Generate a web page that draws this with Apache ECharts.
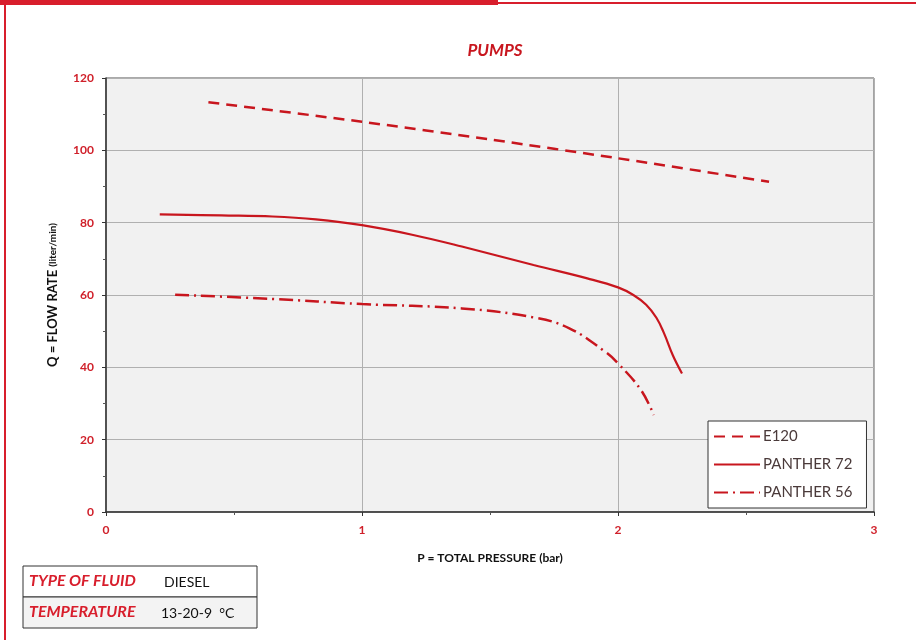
<!DOCTYPE html>
<html><head><meta charset="utf-8">
<script src="https://cdn.jsdelivr.net/npm/echarts@6/dist/echarts.min.js"></script>
<style>html,body{margin:0;padding:0;background:#fff}#c{width:916px;height:640px}</style>
</head><body><div id="c"></div>
<script>
const seriesNames = ['E120', 'PANTHER 72', 'PANTHER 56'];
const e120 = [[0.40,113.3],[1.00,107.9],[1.50,103.0],[2.00,97.8],[2.59,91.3]];
const panther72 = [[0.21,82.3],[0.45,82.0],[0.65,81.7],[0.82,80.9],[1.00,79.3],[1.20,76.6],[1.39,73.4],[1.67,68.3],[1.88,64.6],[2.00,62.1],[2.06,60.0],[2.11,57.3],[2.15,53.7],[2.18,49.4],[2.215,43.2],[2.25,38.3]];
const panther56 = [[0.27,60.1],[0.65,58.9],[1.00,57.5],[1.39,56.3],[1.67,53.8],[1.81,50.8],[1.95,44.3],[2.00,41.1],[2.09,33.7],[2.14,26.8]];
const xTicks = [0,1,2,3];
const yTicks = [0,20,40,60,80,100,120];
const fluidRows = [['TYPE OF FLUID','DIESEL'],['TEMPERATURE','13-20-9  °C']];

const RED = '#c8161e';
const FRAME = '#d81e2c';
const FONT = 'Lato, "Open Sans", sans-serif';
const chart = echarts.init(document.getElementById('c'));

const tableEls = [];
fluidRows.forEach((r,i)=>{
  const y = 566 + i*31;
  tableEls.push({type:'rect', shape:{x:23,y:y,width:234,height:31}, style:{fill:i? '#f3f3f3':'#ffffff', stroke:'#333', lineWidth:1}});
  tableEls.push({type:'text', left:29, top:y+7, style:{text:r[0], fill:'#d81e2c', font:'italic bold 16px '+FONT}});
  tableEls.push({type:'text', left:i?161:164, top:y+9, style:{text:r[1], fill:'#111', font:'14px '+FONT}});
});

chart.setOption({
  animation:false,
  backgroundColor:'#fff',
  title:{text:'PUMPS', left:490, top:37, textAlign:'center',
    textStyle:{color:RED, fontStyle:'italic', fontWeight:'bold', fontSize:17, fontFamily:FONT}},
  grid:{left:106, right:42, top:78, bottom:128, show:true, backgroundColor:'#f1f1f1', borderColor:'#555', borderWidth:1},
  legend:{orient:'vertical', left:708, top:421, data:seriesNames,
    backgroundColor:'#fff', borderColor:'#333', borderWidth:1, padding:[8,14,8,5],
    itemWidth:46, itemHeight:14, itemGap:13,
    itemStyle:{opacity:0},
    textStyle:{color:'#4a3a3a', fontSize:15, fontFamily:FONT, padding:[0,0,0,-2]}},
  xAxis:{type:'value', min:0, max:3, interval:1,
    name:'P = TOTAL PRESSURE (bar)', nameLocation:'middle', nameGap:40,
    nameTextStyle:{color:'#111', fontWeight:'bold', fontSize:12, fontFamily:FONT},
    axisLine:{lineStyle:{color:'#333', width:1.5}},
    axisTick:{show:true, length:4, lineStyle:{color:'#333'}},
    minorTick:{show:true, splitNumber:2, length:3, lineStyle:{color:'#555'}},
    splitLine:{show:true, lineStyle:{color:'#b0b0b0', width:1}},
    axisLabel:{color:'#d0202a', fontWeight:'bold', fontSize:12, fontFamily:FONT, margin:12,
      formatter:v=>xTicks.includes(v)? String(v):''}},
  yAxis:{type:'value', min:0, max:120, interval:20,
    name:'{a|Q = FLOW RATE }{b|(liter/min)}', nameLocation:'middle', nameGap:47, nameRotate:90,
    nameTextStyle:{rich:{a:{color:'#111', fontWeight:'bold', fontSize:13, fontFamily:FONT}, b:{color:'#111', fontWeight:'bold', fontSize:10, fontFamily:FONT}}},
    axisLine:{show:true, lineStyle:{color:'#333', width:1.5}},
    axisTick:{show:true, length:4, lineStyle:{color:'#333'}},
    minorTick:{show:true, splitNumber:2, length:3, lineStyle:{color:'#555'}},
    splitLine:{show:true, lineStyle:{color:'#b0b0b0', width:1}},
    axisLabel:{color:'#d0202a', fontWeight:'bold', fontSize:12, fontFamily:FONT, margin:12,
      formatter:v=>yTicks.includes(v)? String(v):''}},
  series:[
    {name:seriesNames[0], type:'line', data:e120, smooth:0.3, symbol:'none', color:RED,
      lineStyle:{color:RED, width:2.5, type:[11,7]}},
    {name:seriesNames[1], type:'line', data:panther72, smooth:0.4, symbol:'none', color:RED,
      lineStyle:{color:RED, width:2.2, type:'solid'}},
    {name:seriesNames[2], type:'line', data:panther56, smooth:0.4, symbol:'none', color:RED,
      lineStyle:{color:RED, width:2.5, type:[14,5,2,5]}}
  ],
  graphic:[
    {type:'rect', shape:{x:0,y:0,width:498,height:5}, style:{fill:FRAME}},
    {type:'rect', shape:{x:498,y:2,width:418,height:2}, style:{fill:FRAME}},
    {type:'rect', shape:{x:4,y:0,width:2,height:640}, style:{fill:FRAME}},
    ...tableEls
  ]
});
</script></body></html>
